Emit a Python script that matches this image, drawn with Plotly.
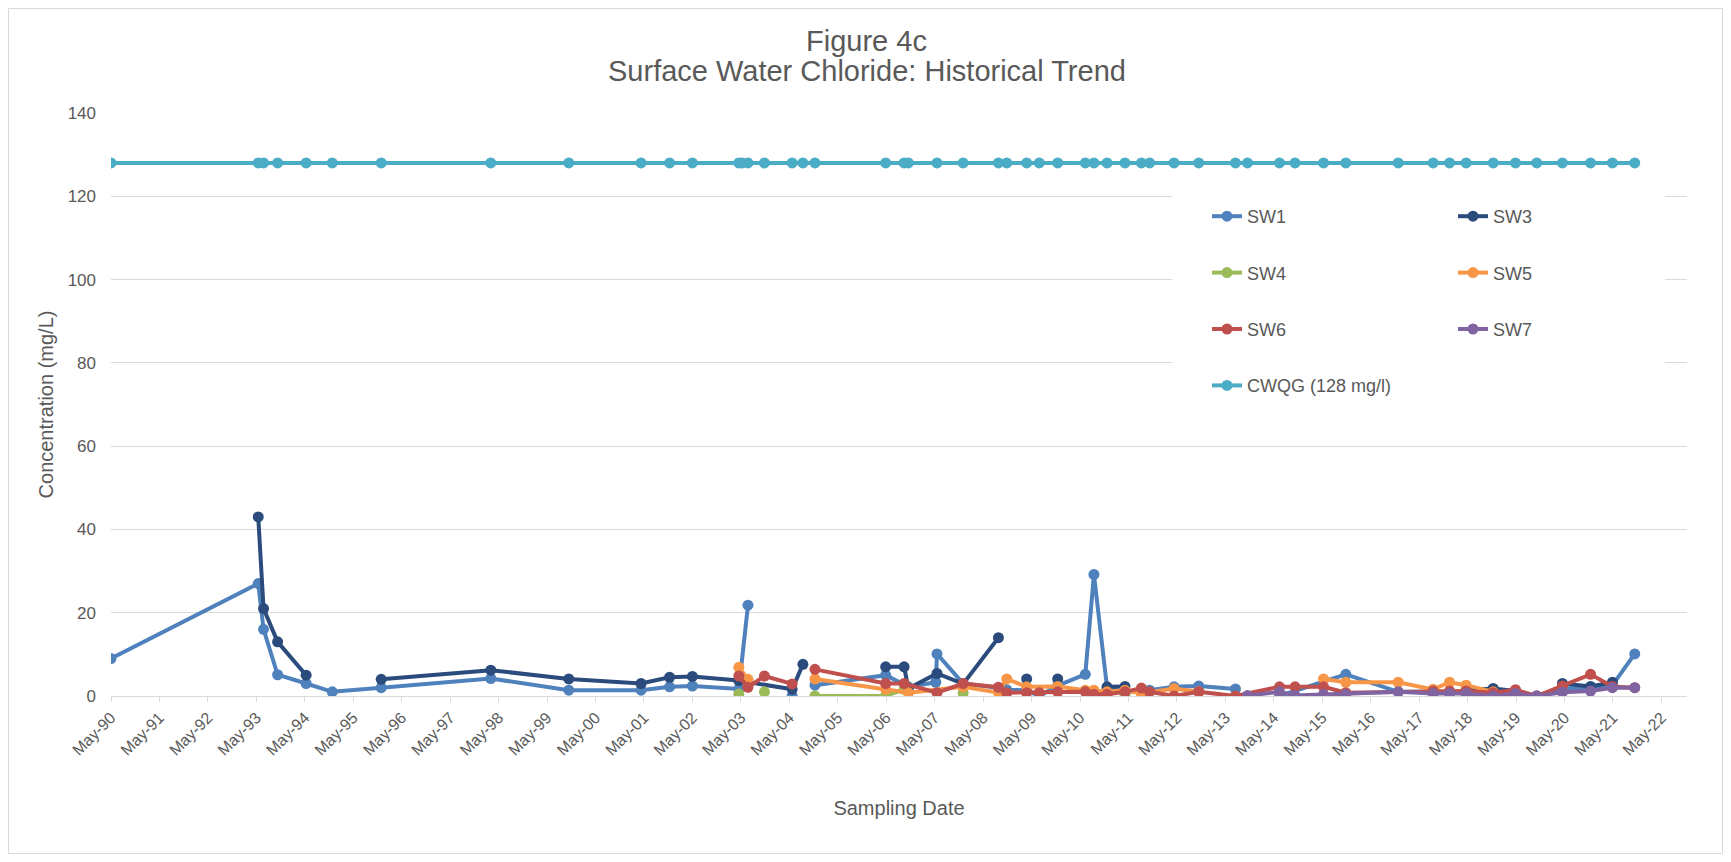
import plotly.graph_objects as go

# ---------------- data ----------------
sample_dates = [
    "1990-05-01", "1993-05-15", "1993-06-24", "1993-10-08", "1994-05-11", "1994-11-24",
    "1995-11-28", "1998-03-03", "1999-10-12", "2001-04-09", "2001-11-10", "2002-05-01",
    "2003-04-16", "2003-05-11", "2003-06-24", "2003-10-26", "2004-05-22", "2004-08-11",
    "2004-11-10", "2006-04-27", "2006-09-13", "2006-10-15", "2007-05-19", "2007-12-02",
    "2008-08-24", "2008-10-26", "2009-03-25", "2009-06-28", "2009-11-14", "2010-06-10",
    "2010-08-14", "2010-11-21", "2011-04-05", "2011-08-07", "2011-10-08", "2012-04-09",
    "2012-10-12", "2013-07-16", "2013-10-15", "2014-06-13", "2014-10-08", "2015-05-11",
    "2015-10-26", "2016-11-24", "2017-08-14", "2017-12-16", "2018-04-20", "2018-11-10",
    "2019-04-27", "2019-10-04", "2020-04-15", "2020-11-13", "2021-04-27", "2021-10-12",
]

sw1_dates = ["1990-05-01", "1993-05-15", "1993-06-24", "1993-10-08", "1994-05-11", "1994-11-24",
             "1995-11-28", "1998-03-03", "1999-10-12", "2001-04-09", "2001-11-10", "2002-05-01",
             "2003-04-16", "2003-06-24", "2004-01-01", "2004-05-22", "2004-08-11", "2004-11-10",
             "2006-04-27", "2006-10-15", "2007-05-10", "2007-05-19", "2007-12-02", "2008-08-24",
             "2008-10-26", "2009-03-25", "2009-06-28", "2009-11-14", "2010-06-10", "2010-08-14",
             "2010-11-21", "2011-04-05", "2011-08-07", "2011-10-08", "2012-04-09", "2012-10-12",
             "2013-07-16", "2014-01-01", "2014-06-13", "2015-10-26", "2016-11-24", "2017-08-14",
             "2017-12-16", "2018-04-20", "2018-11-10", "2019-04-27", "2019-10-04", "2020-04-15",
             "2020-11-13", "2021-04-27", "2021-10-12"]
sw1_vals = [9.0, 27.0, 16.0, 5.1, 3.0, 1.0,
            2.0, 4.2, 1.4, 1.4, 2.2, 2.4,
            1.7, 21.8, None, 0.0, None, 2.6,
            5.0, 2.2, 3.3, 10.1, 3.0, 2.0,
            1.5, 1.4, 0.0, 2.5, 5.2, 29.2,
            2.0, 1.0, 1.2, 1.4, 2.2, 2.4,
            1.7, None, 0.0, 5.2, 1.0, 1.0,
            0.8, 0.8, 0.8, 1.0, 0.0, 1.8,
            2.0, 2.6, 10.1]

sw3_dates = ["1993-05-15", "1993-06-24", "1993-10-08", "1994-05-11", "1995-01-01", "1995-11-28",
             "1998-03-03", "1999-10-12", "2001-04-09", "2001-11-10", "2002-05-01", "2003-04-16",
             "2004-05-22", "2004-08-11", "2005-01-01", "2006-04-27", "2006-09-13", "2006-10-15",
             "2007-05-19", "2007-12-02", "2008-08-24", "2008-12-01", "2009-03-25", "2009-08-01",
             "2009-11-14", "2010-09-01", "2010-11-21", "2011-04-05", "2012-01-01", "2018-04-20",
             "2018-11-10", "2019-04-27", "2019-12-01", "2020-04-15", "2020-11-13", "2021-04-27"]
sw3_vals = [43.0, 21.0, 13.0, 5.0, None, 4.0,
            6.2, 4.1, 3.0, 4.5, 4.7, 3.7,
            1.6, 7.6, None, 7.0, 7.0, 1.8,
            5.4, 2.9, 14.0, None, 4.1, None,
            4.1, None, 2.2, 2.3, None, 1.4,
            1.8, 1.2, None, 3.0, 2.3, 3.3]

sw4_dates = ["2003-04-16", "2003-08-01", "2003-10-26", "2004-03-01", "2004-11-10", "2006-04-27",
             "2006-09-13", "2007-08-01", "2007-12-02", "2009-01-01", "2011-04-05"]
sw4_vals = [0.5, None, 1.0, None, 0.0, 0.0,
            1.6, None, 0.7, None, 0.2]

sw5_dates = ["2003-04-16", "2003-06-24", "2004-01-01", "2004-11-10", "2006-04-27", "2006-10-15",
             "2007-12-02", "2008-08-24", "2008-10-26", "2009-03-25", "2009-11-14", "2010-06-10",
             "2010-08-14", "2010-11-21", "2011-04-05", "2011-08-07", "2012-04-09", "2012-10-12",
             "2014-01-01", "2015-05-11", "2015-10-26", "2016-11-24", "2017-08-14", "2017-12-16",
             "2018-04-20", "2018-11-10", "2019-04-27", "2019-10-04"]
sw5_vals = [6.9, 4.0, None, 4.1, 1.6, 0.8,
            2.2, 0.8, 4.1, 2.2, 2.3, 1.4,
            1.4, 1.0, 1.4, 0.6, 1.8, 1.0,
            None, 4.1, 3.3, 3.3, 1.6, 3.3,
            2.6, 1.0, 0.8, 0.0]

sw6_dates = ["2003-04-16", "2003-06-24", "2003-10-26", "2004-05-22", "2004-08-11", "2004-11-10",
             "2006-04-27", "2006-09-13", "2007-05-19", "2007-12-02", "2008-08-24", "2008-10-26",
             "2009-03-25", "2009-06-28", "2009-11-14", "2010-06-10", "2010-08-14", "2010-11-21",
             "2011-04-05", "2011-08-07", "2011-10-08", "2012-04-09", "2012-10-12", "2013-07-16",
             "2014-06-13", "2014-10-08", "2015-05-11", "2015-10-26", "2017-08-14", "2017-12-16",
             "2018-04-20", "2018-11-10", "2019-04-27", "2019-10-04", "2020-04-15", "2020-11-13",
             "2021-04-27", "2021-10-12"]
sw6_vals = [4.8, 2.1, 4.8, 2.9, None, 6.4,
            3.0, 3.0, 0.8, 3.0, 2.1, 0.8,
            0.8, 0.8, 1.0, 1.0, 0.4, 0.4,
            1.0, 1.9, 1.0, 0.0, 1.0, 0.0,
            2.2, 2.2, 2.2, 0.8, 1.2, 1.2,
            1.2, 0.8, 1.5, 0.0, 2.4, 5.2,
            2.3, 2.0]

sw7_dates = ["2013-10-15", "2014-06-13", "2014-10-08", "2015-05-11", "2015-10-26", "2016-11-24",
             "2017-08-14", "2017-12-16", "2018-04-20", "2018-11-10", "2019-04-27", "2019-10-04",
             "2020-04-15", "2020-11-13", "2021-04-27", "2021-10-12"]
sw7_vals = [0.1, 1.0, 0.1, 0.4, 0.4, 1.0,
            0.6, 0.6, 0.6, 0.0, 0.6, 0.0,
            0.9, 1.2, 2.0, 2.0]

cwqg_value = 128
cwqg_vals = [cwqg_value for _ in sample_dates]

tick_years = list(range(1990, 2023))
tick_dates = [f"{y}-05-01" for y in tick_years]
tick_labels = [f"May-{y % 100:02d}" for y in tick_years]

title_lines = ["Figure 4c", "Surface Water Chloride: Historical Trend"]

series = [
    ("SW1", sw1_dates, sw1_vals, "#4F81BD", "legend"),
    ("SW3", sw3_dates, sw3_vals, "#2A4B7C", "legend2"),
    ("SW4", sw4_dates, sw4_vals, "#9BBB59", "legend"),
    ("SW5", sw5_dates, sw5_vals, "#F79646", "legend2"),
    ("SW6", sw6_dates, sw6_vals, "#C0504D", "legend"),
    ("SW7", sw7_dates, sw7_vals, "#8064A2", "legend2"),
    ("CWQG (128 mg/l)", sample_dates, cwqg_vals, "#4BACC6", "legend"),
]

# ---------------- layout geometry ----------------
OFF = 8                      # default page body margin
W, H = 1731 - 2 * OFF, 862 - 2 * OFF
ML, MR, MT, MB = 103, 36, 105, 158
PW, PH = W - ML - MR, H - MT - MB


def px_x(px):   # page pixel -> paper x
    return (px - OFF - ML) / PW


def px_y(py):   # page pixel -> paper y
    return (H - MB - (py - OFF)) / PH


FONT = "Liberation Sans, Arial, sans-serif"
TXT = "#595959"
GRID = "#D9D9D9"

fig = go.Figure()
for name, xs, ys, color, leg in series:
    fig.add_trace(go.Scatter(
        x=xs, y=ys, name=name, mode="lines+markers",
        line=dict(color=color, width=4),
        marker=dict(color=color, size=11),
        connectgaps=False, legend=leg, legendgroup=name,
    ))

fig.update_layout(
    width=W, height=H,
    margin=dict(l=ML, r=MR, t=MT, b=MB),
    paper_bgcolor="white", plot_bgcolor="white",
    font=dict(family=FONT, color=TXT, size=17),
    xaxis=dict(
        type="date",
        range=["1990-05-01", "2022-11-10"],
        tickmode="array", tickvals=tick_dates, ticktext=tick_labels,
        tickangle=-45, tickfont=dict(size=16, color=TXT),
        showgrid=False, showline=True, linecolor=GRID, linewidth=1,
        ticks="outside", ticklen=5, tickcolor=GRID,
        zeroline=False,
        title=dict(text="Sampling Date", font=dict(size=20, color=TXT), standoff=43),
    ),
    yaxis=dict(
        range=[0, 140], dtick=20, tick0=0,
        tickfont=dict(size=17, color=TXT),
        showgrid=True, gridcolor=GRID, gridwidth=1,
        zeroline=False, showline=False, ticks="",
        ticklabelstandoff=14,
        title=dict(text="Concentration (mg/L)", font=dict(size=20, color=TXT), standoff=8),
    ),
    legend=dict(
        x=px_x(1207), y=px_y(198), xanchor="left", yanchor="top",
        bgcolor="rgba(0,0,0,0)", font=dict(size=18, color=TXT),
        tracegroupgap=30, itemwidth=30,
    ),
    legend2=dict(
        x=px_x(1453), y=px_y(198), xanchor="left", yanchor="top",
        bgcolor="rgba(0,0,0,0)", font=dict(size=18, color=TXT),
        tracegroupgap=30, itemwidth=30,
    ),
    showlegend=True,
    annotations=[
        dict(text=title_lines[0], xref="paper", yref="paper",
             x=px_x(866.7), y=px_y(41), xanchor="center", yanchor="middle",
             showarrow=False, font=dict(size=29, color=TXT)),
        dict(text=title_lines[1], xref="paper", yref="paper",
             x=px_x(866.7), y=px_y(71), xanchor="center", yanchor="middle",
             showarrow=False, font=dict(size=29, color=TXT)),
    ],
    shapes=[
        # legend background box
        dict(type="rect", xref="paper", yref="paper",
             x0=px_x(1172), x1=px_x(1665), y0=px_y(405), y1=px_y(186),
             fillcolor="white", line=dict(width=0), layer="above"),
        # chart outer border
        dict(type="rect", xref="paper", yref="paper",
             x0=(0.5 - ML) / PW, x1=(W - 0.5 - ML) / PW,
             y0=(H - MB - (H - 0.5)) / PH, y1=(H - MB - 0.5) / PH,
             fillcolor="rgba(0,0,0,0)", line=dict(color=GRID, width=1), layer="below"),
    ],
)

fig.write_html("out.html")
